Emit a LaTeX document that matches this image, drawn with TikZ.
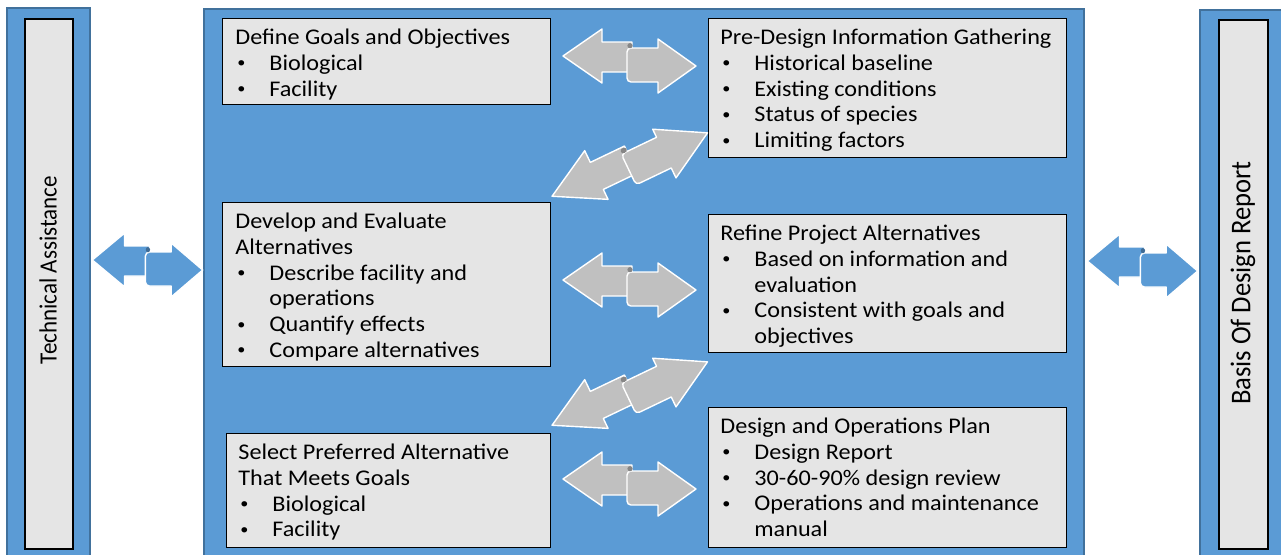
\documentclass[tikz,border=0pt]{standalone}
\usepackage{fontspec}
\setmainfont{Carlito}[FakeStretch=1.08]
\newfontfamily\rotfont{Carlito}[FakeStretch=0.93]
\usetikzlibrary{positioning,calc}

\definecolor{panelblue}{HTML}{5B9BD5}
\definecolor{paneledge}{HTML}{41719C}
\definecolor{boxgray}{HTML}{E5E5E5}
\definecolor{arrowgray}{HTML}{C0C0C0}

\newcommand{\bul}{\makebox[17pt][l]{\hspace{1pt}\raisebox{1.2pt}{\fontsize{7.5}{7.5}\selectfont\textbullet}}}
\newcommand{\cont}{\hspace*{17pt}}

% two interlocked block arrows: centre, angle, xscale, fill
\newcommand{\dblarrow}[4]{%
  \begin{scope}[shift={#1}, rotate=#2, xscale=#3]
    \filldraw[fill=#4, draw=white, line width=0.7pt, line join=round]
      (-66.5,-5.5) -- (-27.5,-32.5) -- (-27.5,-19.5) -- (2.5,-19.5)
      -- (2.5,10.5) -- (-27.5,10.5) -- (-27.5,21.5) -- cycle;
    \filldraw[fill=#4, draw=white, line width=0.7pt, line join=round]
      (28.5,-13.5) -- (28.5,-22.5) -- (66.5,4.5) -- (28.5,31.5) -- (28.5,20.5)
      [rounded corners=2pt] -- (-2.5,20.5) -- (-2.5,-13.5) [sharp corners] -- cycle;
    \fill[#4!70!black] (0.5,-15.8) circle (1.3pt);
  \end{scope}}

\tikzset{
  panel/.style={fill=panelblue, draw=paneledge, line width=0.6pt},
  sidebox/.style={fill=boxgray, draw=black, line width=1pt, inner sep=0pt, anchor=north west},
  stepbox/.style={fill=boxgray, draw=black, line width=0.6pt, inner sep=0pt, anchor=north west},
  steptxt/.style={anchor=north west, inner sep=0pt, align=left,
    font=\fontsize{11.2}{12.85}\selectfont},
}

\begin{document}
\begin{tikzpicture}[x=0.5pt, y=-0.5pt]
    \useasboundingbox (0,0) rectangle (1281,554);

    % Panels
    \draw[panel] (7,8) rectangle (90,570);
    \draw[panel] (204,9) rectangle (1084,570);
    \draw[panel] (1200,10) rectangle (1290,570);

    % Side boxes
    \node[sidebox, minimum width=24pt, minimum height=265pt] (techbox) at (24,18) {};
    \node[sidebox, minimum width=24.5pt, minimum height=264.5pt] (basisbox) at (1218,19) {};
    \node[rotate=90, inner sep=0pt, font=\rotfont\fontsize{12.4}{14}\selectfont] (tech) at (48,270) {Technical Assistance};
    \node[rotate=90, inner sep=0pt, font=\rotfont\fontsize{14.3}{16}\selectfont] (basis) at (1243,283) {Basis Of Design Report};

    % Step boxes
    \node[stepbox, minimum width=164pt, minimum height=43pt] (goals) at (222,18) {};
    \node[stepbox, minimum width=179pt, minimum height=69.5pt] (pre) at (708,18) {};
    \node[stepbox, minimum width=164pt, minimum height=82pt] (develop) at (222,202) {};
    \node[stepbox, minimum width=179pt, minimum height=69pt] (refine) at (708,214) {};
    \node[stepbox, minimum width=162pt, minimum height=57pt] (select) at (226,433) {};
    \node[stepbox, minimum width=179pt, minimum height=70pt] (design) at (708,407) {};

    % Box texts
    \node[steptxt] (goalstxt) at ([shift={(6.5pt,-4.1pt)}]goals.north west)
      {\strut Define Goals and Objectives\\ \bul Biological\\ \bul Facility};
    \node[steptxt] (pretxt) at ([shift={(6pt,-4.1pt)}]pre.north west)
      {\strut Pre-Design Information Gathering\\ \bul Historical baseline\\ \bul Existing conditions\\
       \bul Status of species\\ \bul Limiting factors};
    \node[steptxt] (developtxt) at ([shift={(6.5pt,-4.1pt)}]develop.north west)
      {\strut Develop and Evaluate\\ Alternatives\\ \bul Describe facility and\\ \cont operations\\
       \bul Quantify effects\\ \bul Compare alternatives};
    \node[steptxt] (refinetxt) at ([shift={(6pt,-4.1pt)}]refine.north west)
      {\strut Refine Project Alternatives\\ \bul Based on information and\\ \cont evaluation\\
       \bul Consistent with goals and\\ \cont objectives};
    \node[steptxt] (selecttxt) at ([shift={(6pt,-4.1pt)}]select.north west)
      {\strut Select Preferred Alternative\\ That Meets Goals\\ \bul Biological\\ \bul Facility};
    \node[steptxt] (designtxt) at ([shift={(6pt,-4.1pt)}]design.north west)
      {\strut Design and Operations Plan\\ \bul Design Report\\ \bul 30-60-90\% design review\\
       \bul Operations and maintenance\\ \cont manual};

    % Arrows
    \dblarrow{(147.5,265.5)}{0}{0.83}{panelblue}
    \dblarrow{(1142.5,266.5)}{0}{0.83}{panelblue}
    \dblarrow{(629.5,61.5)}{0}{1}{arrowgray}
    \dblarrow{(629.5,285.5)}{0}{1}{arrowgray}
    \dblarrow{(629.5,484.5)}{0}{1}{arrowgray}
    \dblarrow{(630,165)}{25.6}{1.26}{arrowgray}
    \dblarrow{(630,394)}{25.6}{1.26}{arrowgray}
\end{tikzpicture}
\end{document}
